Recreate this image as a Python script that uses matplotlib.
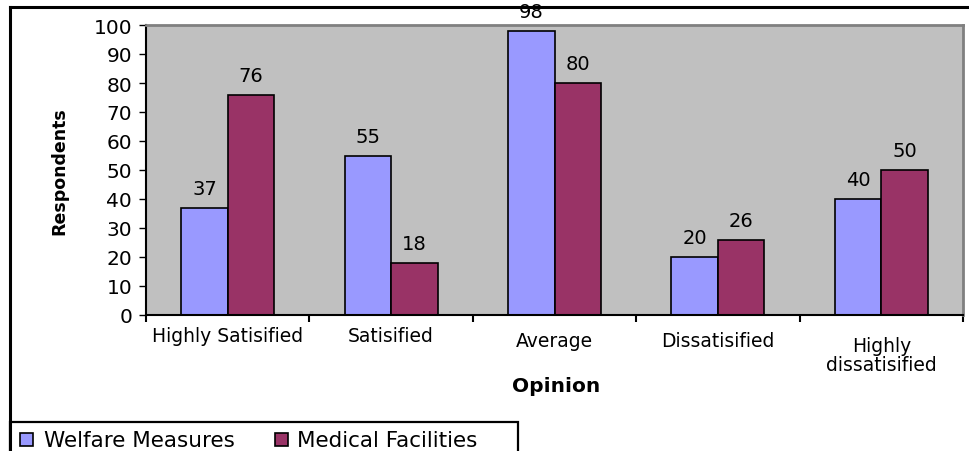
import matplotlib.pyplot as plt
import matplotlib.transforms as mtransforms
import numpy as np
from matplotlib.patches import Rectangle
from matplotlib.lines import Line2D

plt.rcParams['font.family'] = ['DejaVu Sans']

categories = ['Highly Satisified', 'Satisified', 'Average', 'Dissatisified', 'Highly\ndissatisified']
welfare = [37, 55, 98, 20, 40]
medical = [76, 18, 80, 26, 50]
yticks = [0, 10, 20, 30, 40, 50, 60, 70, 80, 90, 100]

# excel staggers the category labels a little (pixel rows, from top)
label_y = [336, 336, 342, 342, 356]

fig = plt.figure(figsize=(9.69, 4.52), dpi=100)
W, H = 969, 452

# outer chart frame (top and left lines) and legend box
fig.add_artist(Line2D([10 / W, 968 / W], [1 - 8 / H, 1 - 8 / H], color='black', lw=2.2))
fig.add_artist(Line2D([10 / W, 10 / W], [1 - 8 / H, 0], color='black', lw=2.2))
fig.add_artist(Rectangle((10 / W, -0.01), 508 / W, (452 - 423) / H + 0.01,
                         fill=False, edgecolor='black', lw=1.6))

ax = fig.add_axes([146 / W, 1 - 316 / H, 817 / W, 290 / H])
ax.set_facecolor('#C0C0C0')

x = np.arange(len(categories))
w = 0.285
b1 = ax.bar(x - w / 2, welfare, w, color='#9999FF', edgecolor='black', lw=1.2)
b2 = ax.bar(x + w / 2, medical, w, color='#993366', edgecolor='black', lw=1.2)

for bars, vals in [(b1, welfare), (b2, medical)]:
    for r, v in zip(bars, vals):
        ax.text(r.get_x() + r.get_width() / 2, v + 4.8, str(v), ha='center', va='baseline',
                fontsize=14)

ax.set_xlim(-0.5, len(categories) - 0.5)
ax.set_ylim(0, 100)
ax.set_yticks(yticks)
ax.tick_params(axis='y', labelsize=14.5, length=5, width=1, pad=5)
ax.set_xticks(np.arange(len(categories) + 1) - 0.5)
ax.set_xticklabels([])
ax.tick_params(axis='x', length=5, width=1.5)

trans = mtransforms.blended_transform_factory(ax.transData, fig.transFigure)
for i, (c, ly) in enumerate(zip(categories, label_y)):
    ax.text(i, 1 - ly / H, c, transform=trans, ha='center', va='center',
            fontsize=13.5, linespacing=1.0)

ax.spines['top'].set_color('#808080')
ax.spines['right'].set_color('#808080')
ax.spines['top'].set_linewidth(2)
ax.spines['right'].set_linewidth(2)
ax.spines['left'].set_linewidth(1.5)
ax.spines['bottom'].set_linewidth(1.5)

fig.text(59 / W, 1 - 171 / H, 'Respondents', rotation=90, ha='center', va='center',
         fontsize=12.5, fontweight='bold')
fig.text(556 / W, 1 - 387 / H, 'Opinion', ha='center', va='center',
         fontsize=14.5, fontweight='bold')

# legend
fig.add_artist(Rectangle((20 / W, 1 - 447 / H), 13 / W, 13 / H, facecolor='#9999FF',
                         edgecolor='black', lw=1.2))
fig.text(44 / W, 1 - 441 / H, 'Welfare Measures', ha='left', va='center', fontsize=15.5)
fig.add_artist(Rectangle((275 / W, 1 - 447 / H), 13 / W, 13 / H, facecolor='#993366',
                         edgecolor='black', lw=1.2))
fig.text(297 / W, 1 - 441 / H, 'Medical Facilities', ha='left', va='center', fontsize=15.5)

fig.savefig('out.png', dpi=100)
